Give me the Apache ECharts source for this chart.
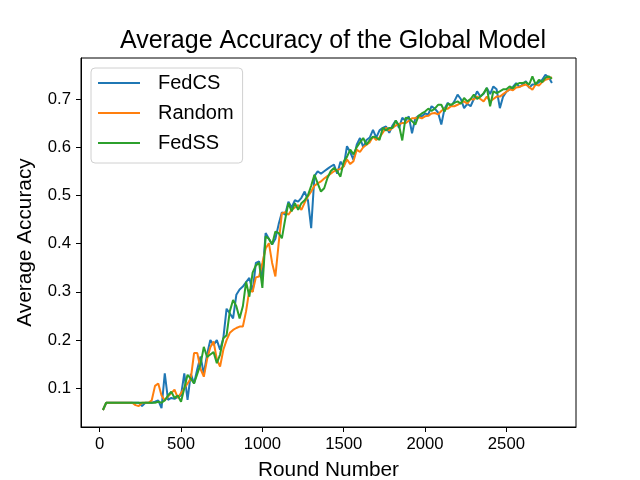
<!DOCTYPE html>
<html>
<head>
<meta charset="utf-8">
<script src="https://cdn.jsdelivr.net/npm/echarts@6/dist/echarts.min.js"></script>
<style>
  html, body { margin: 0; padding: 0; background: #fff; }
  #main { width: 640px; height: 480px; }
</style>
</head>
<body>
<div id="main"></div>
<script>
// rounds go 20, 40, ... one value every 20 rounds
var roundStep = 20;

var fedcs = [
  0.055, 0.07, 0.07, 0.07, 0.07, 0.07, 0.07, 0.07, 0.07, 0.07,
  0.07, 0.07, 0.063, 0.07, 0.07, 0.07, 0.072, 0.075, 0.059, 0.131,
  0.076, 0.08, 0.078, 0.082, 0.085, 0.131, 0.076, 0.13, 0.11, 0.14,
  0.166, 0.13, 0.17, 0.2, 0.19, 0.2, 0.18, 0.204, 0.265, 0.255,
  0.245, 0.294, 0.305, 0.311, 0.32, 0.329, 0.3, 0.36, 0.363, 0.33,
  0.422, 0.41, 0.398, 0.41, 0.44, 0.465, 0.46, 0.487, 0.475, 0.49,
  0.487, 0.495, 0.508, 0.49, 0.432, 0.54, 0.55, 0.545, 0.55, 0.555,
  0.56, 0.564, 0.545, 0.57, 0.56, 0.602, 0.59, 0.574, 0.605, 0.619,
  0.6, 0.615, 0.62, 0.636, 0.62, 0.635, 0.64, 0.643, 0.63, 0.645,
  0.655, 0.64, 0.661, 0.655, 0.664, 0.629, 0.66, 0.665, 0.664, 0.67,
  0.668, 0.685, 0.68, 0.672, 0.647, 0.68, 0.692, 0.685, 0.695, 0.709,
  0.7, 0.681, 0.69, 0.685, 0.7, 0.716, 0.705, 0.711, 0.723, 0.71,
  0.726, 0.72, 0.681, 0.705, 0.715, 0.72, 0.725, 0.733, 0.725, 0.73,
  0.737, 0.723, 0.73, 0.73, 0.735, 0.74, 0.75, 0.745, 0.733
];

var random = [
  0.055, 0.07, 0.07, 0.07, 0.07, 0.07, 0.07, 0.07, 0.07, 0.07,
  0.065, 0.063, 0.07, 0.07, 0.07, 0.075, 0.105, 0.11, 0.085, 0.075,
  0.083, 0.09, 0.097, 0.08, 0.09, 0.1, 0.11, 0.12, 0.173, 0.173,
  0.14, 0.124, 0.16, 0.185, 0.197, 0.16, 0.145, 0.18, 0.2, 0.215,
  0.221, 0.225, 0.228, 0.228, 0.26, 0.304, 0.3, 0.33, 0.332, 0.36,
  0.39, 0.401, 0.36, 0.332, 0.4, 0.463, 0.465, 0.46, 0.47, 0.475,
  0.48, 0.47, 0.485, 0.498, 0.508, 0.52, 0.525, 0.529, 0.535, 0.54,
  0.545, 0.55, 0.553, 0.555, 0.56, 0.575, 0.565, 0.571, 0.595, 0.59,
  0.6, 0.605, 0.61, 0.622, 0.615, 0.62, 0.63, 0.64, 0.635, 0.64,
  0.645, 0.648, 0.65, 0.65, 0.655, 0.66, 0.66, 0.662, 0.66, 0.664,
  0.665, 0.67, 0.671, 0.668, 0.675, 0.68, 0.68, 0.685, 0.685, 0.688,
  0.692, 0.695, 0.69, 0.7, 0.699, 0.705, 0.7, 0.695, 0.705, 0.695,
  0.7, 0.705, 0.705, 0.71, 0.715, 0.72, 0.718, 0.724, 0.725, 0.728,
  0.73, 0.725, 0.719, 0.73, 0.728, 0.735, 0.74, 0.742, 0.745
];

var fedss = [
  0.055, 0.07, 0.07, 0.07, 0.07, 0.07, 0.07, 0.07, 0.07, 0.07,
  0.07, 0.07, 0.07, 0.07, 0.07, 0.07, 0.07, 0.072, 0.07, 0.075,
  0.085, 0.093, 0.08, 0.085, 0.072, 0.1, 0.128, 0.12, 0.11, 0.13,
  0.15, 0.186, 0.165, 0.17, 0.175, 0.152, 0.17, 0.204, 0.21, 0.26,
  0.283, 0.27, 0.245, 0.27, 0.321, 0.29, 0.34, 0.355, 0.36, 0.308,
  0.415, 0.41, 0.398, 0.425, 0.422, 0.411, 0.45, 0.484, 0.467, 0.484,
  0.47, 0.484, 0.49, 0.5, 0.52, 0.543, 0.525, 0.508, 0.515, 0.536,
  0.55, 0.557, 0.55, 0.539, 0.57, 0.58, 0.595, 0.585, 0.6, 0.61,
  0.619, 0.605, 0.615, 0.622, 0.62, 0.615, 0.64, 0.635, 0.64, 0.64,
  0.655, 0.645, 0.614, 0.661, 0.66, 0.654, 0.647, 0.665, 0.67, 0.674,
  0.68, 0.675, 0.68, 0.688, 0.688, 0.674, 0.69, 0.688, 0.692, 0.695,
  0.69, 0.702, 0.695, 0.7, 0.709, 0.7, 0.705, 0.712, 0.723, 0.685,
  0.716, 0.712, 0.716, 0.72, 0.72, 0.726, 0.722, 0.73, 0.733, 0.733,
  0.735, 0.73, 0.747, 0.73, 0.74, 0.735, 0.744, 0.747, 0.742
];

var xTicks = [0, 500, 1000, 1500, 2000, 2500];
var yTicks = [0.1, 0.2, 0.3, 0.4, 0.5, 0.6, 0.7];

function pairs(vals) {
  return vals.map(function (v, i) { return [roundStep * (i + 1), v]; });
}

var font = 'Liberation Sans, Arial, Helvetica, sans-serif';
var chart = echarts.init(document.getElementById('main'), null, { renderer: 'canvas' });

var option = {
  animation: false,
  backgroundColor: '#fff',
  textStyle: { fontFamily: font },
  title: {
    text: 'Average Accuracy of the Global Model',
    left: 328,
    textAlign: 'center',
    top: 24,
    textStyle: { fontSize: 25, fontWeight: 'normal', color: '#000', fontFamily: font }
  },
  legend: {
    orient: 'vertical',
    left: 91,
    top: 68,
    padding: [5, 9, 10, 7],
    icon: 'rect',
    itemWidth: 42,
    itemHeight: 2,
    itemGap: 10,
    borderColor: '#d0d0d0',
    borderWidth: 1,
    borderRadius: 4,
    backgroundColor: 'rgba(255,255,255,0.8)',
    textStyle: { fontSize: 20, lineHeight: 20, color: '#000', fontFamily: font, padding: [0, 0, 0, 13] },
    data: ['FedCS', 'Random', 'FedSS']
  },
  grid: {
    left: 81, right: 64, top: 58, bottom: 53,
    outerBoundsMode: 'none',
    containLabel: false,
    show: true, borderColor: '#000', borderWidth: 1, backgroundColor: 'transparent'
  },
  xAxis: {
    type: 'value',
    min: -115,
    max: 2928,
    name: 'Round Number',
    nameLocation: 'middle',
    nameGap: 33,
    nameTextStyle: { fontSize: 20.8, color: '#000', fontFamily: font },
    axisLine: { show: true, onZero: false, lineStyle: { color: '#000', width: 1 } },
    axisTick: { show: true, inside: false, length: 5, customValues: xTicks, lineStyle: { color: '#000' } },
    axisLabel: {
      customValues: xTicks, margin: 9, fontSize: 16.7, color: '#000', fontFamily: font,
      formatter: function (v) { return String(v); }
    },
    splitLine: { show: false }
  },
  yAxis: {
    type: 'value',
    min: 0.0197,
    max: 0.785,
    name: 'Average Accuracy',
    nameLocation: 'middle',
    nameGap: 45,
    nameTextStyle: { fontSize: 20.8, color: '#000', fontFamily: font },
    axisLine: { show: true, onZero: false, lineStyle: { color: '#000', width: 1 } },
    axisTick: { show: true, inside: false, length: 5, customValues: yTicks, lineStyle: { color: '#000' } },
    axisLabel: {
      customValues: yTicks, margin: 10, fontSize: 16.7, color: '#000', fontFamily: font,
      formatter: function (v) { return v.toFixed(1); }
    },
    splitLine: { show: false }
  },
  series: [
    { name: 'FedCS', type: 'line', symbol: 'none', data: pairs(fedcs),
      itemStyle: { color: '#1f77b4' }, lineStyle: { color: '#1f77b4', width: 2 } },
    { name: 'Random', type: 'line', symbol: 'none', data: pairs(random),
      itemStyle: { color: '#ff7f0e' }, lineStyle: { color: '#ff7f0e', width: 2 } },
    { name: 'FedSS', type: 'line', symbol: 'none', data: pairs(fedss),
      itemStyle: { color: '#2ca02c' }, lineStyle: { color: '#2ca02c', width: 2 } }
  ]
};

chart.setOption(option);
</script>
</body>
</html>
